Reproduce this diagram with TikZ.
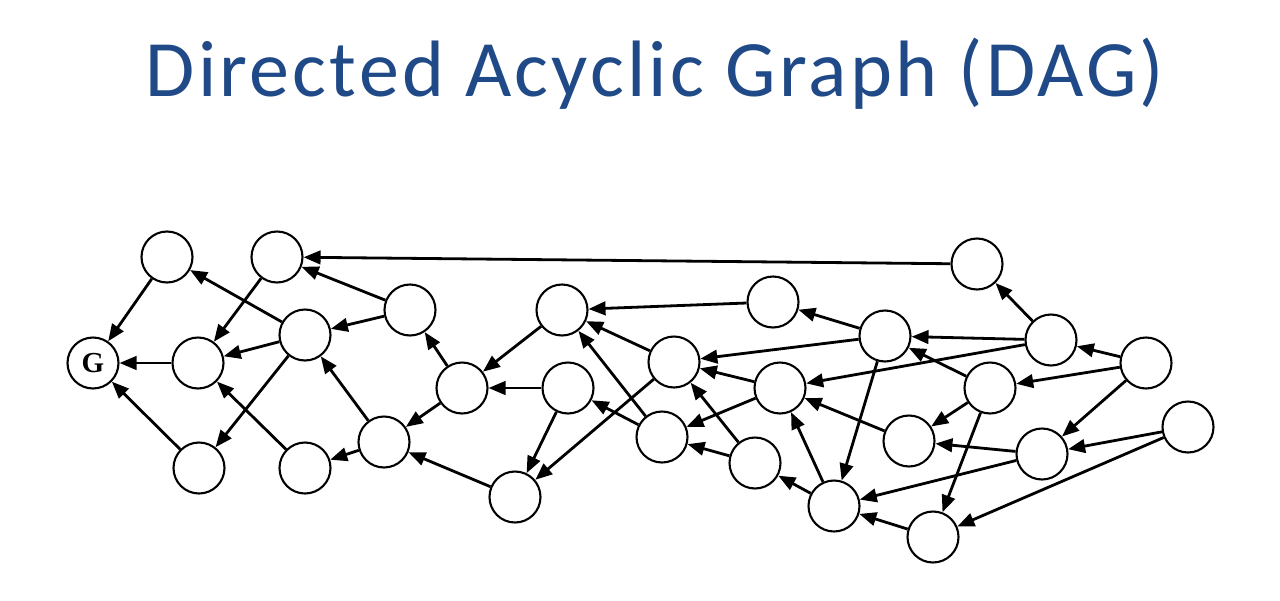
\documentclass[tikz,border=0pt]{standalone}
\usepackage{fontspec}
\setmainfont{Carlito}
\newfontfamily\titlefont[LetterSpace=4]{Carlito}
\newfontfamily\gfont{Liberation Serif}
\usetikzlibrary{arrows.meta}
\definecolor{titleblue}{RGB}{32,74,135}
\tikzset{
  vtx/.style={circle, draw=black, line width=2.1pt, minimum size=51pt, inner sep=0pt, fill=white},
  edge/.style={line width=2.8pt, -{Triangle[length=17pt,width=13.5pt]}},
}
\begin{document}
\begin{tikzpicture}[x=1pt,y=-1pt]
\useasboundingbox (0,0) rectangle (1280,600);
\node[anchor=base, text=titleblue, font=\titlefont\fontsize{80}{90}\selectfont] (title) at (655,96) {Directed Acyclic Graph (DAG)};

\node[vtx, font=\gfont\bfseries\fontsize{29}{30}\selectfont] (G) at (93,363) {G};
\node[vtx] (A1) at (167,257) {};
\node[vtx] (A2) at (277,257) {};
\node[vtx] (B1) at (198,363) {};
\node[vtx] (C1) at (305,335) {};
\node[vtx] (D1) at (410,310) {};
\node[vtx] (B2) at (199,468) {};
\node[vtx] (B3) at (305,468) {};
\node[vtx] (E1) at (384,442) {};
\node[vtx] (F1) at (462,388) {};
\node[vtx] (H1) at (562,310) {};
\node[vtx] (I1) at (568,388) {};
\node[vtx] (J1) at (515,497) {};
\node[vtx] (K1) at (662,437) {};
\node[vtx] (L1) at (674,362) {};
\node[vtx] (M1) at (773,302) {};
\node[vtx] (N1) at (755,463) {};
\node[vtx] (O1) at (780,388) {};
\node[vtx] (P1) at (885,336) {};
\node[vtx] (Q1) at (834,506) {};
\node[vtx] (R1) at (909,441) {};
\node[vtx] (S1) at (990,388) {};
\node[vtx] (T1) at (977,264) {};
\node[vtx] (U1) at (1051,340) {};
\node[vtx] (V1) at (1146,363) {};
\node[vtx] (W1) at (1042,454) {};
\node[vtx] (X1) at (1188,427) {};
\node[vtx] (Y1) at (933,537) {};

\draw[edge] (A1) -- (G);
\draw[edge] (B1) -- (G);
\draw[edge] (B2) -- (G);
\draw[edge] (A2) -- (B1);
\draw[edge] (C1) -- (B1);
\draw[edge] (C1) -- (A1);
\draw[edge] (C1) -- (B2);
\draw[edge] (B3) -- (B1);
\draw[edge] (E1) -- (C1);
\draw[edge] (E1) -- (B3);
\draw[edge] (D1) -- (C1);
\draw[edge] (T1) -- (A2);
\draw[edge] (D1) -- (A2);
\draw[edge] (F1) -- (D1);
\draw[edge] (F1) -- (E1);
\draw[edge] (H1) -- (F1);
\draw[edge] (I1) -- (F1);
\draw[edge] (J1) -- (E1);
\draw[edge] (I1) -- (J1);
\draw[edge] (L1) -- (J1);
\draw[edge] (M1) -- (H1);
\draw[edge] (L1) -- (H1);
\draw[edge] (K1) -- (H1);
\draw[edge] (K1) -- (I1);
\draw[edge] (O1) -- (K1);
\draw[edge] (N1) -- (K1);
\draw[edge] (P1) -- (L1);
\draw[edge] (O1) -- (L1);
\draw[edge] (N1) -- (L1);
\draw[edge] (P1) -- (M1);
\draw[edge] (U1) -- (O1);
\draw[edge] (R1) -- (O1);
\draw[edge] (Q1) -- (O1);
\draw[edge] (Q1) -- (N1);
\draw[edge] (P1) -- (Q1);
\draw[edge] (W1) -- (Q1);
\draw[edge] (Y1) -- (Q1);
\draw[edge] (U1) -- (P1);
\draw[edge] (S1) -- (P1);
\draw[edge] (U1) -- (T1);
\draw[edge] (V1) -- (U1);
\draw[edge] (V1) -- (S1);
\draw[edge] (V1) -- (W1);
\draw[edge] (X1) -- (W1);
\draw[edge] (S1) -- (R1);
\draw[edge] (W1) -- (R1);
\draw[edge] (S1) -- (Y1);
\draw[edge] (X1) -- (Y1);
\end{tikzpicture}
\end{document}
